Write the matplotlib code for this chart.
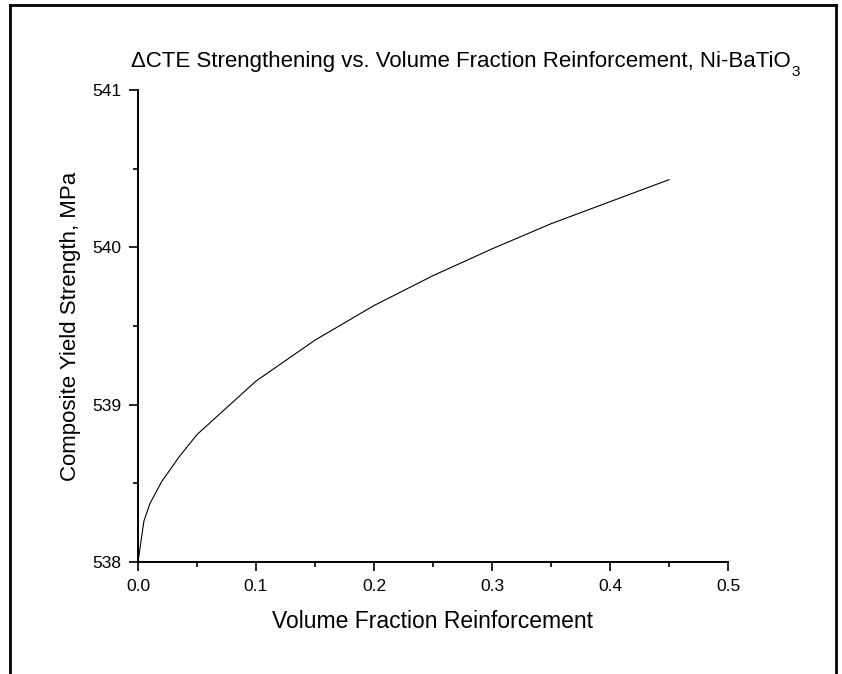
import numpy as np
import matplotlib
matplotlib.use("Agg")
import matplotlib.pyplot as plt
from matplotlib.lines import Line2D
from matplotlib.ticker import MultipleLocator, FormatStrFormatter

plt.rcParams['font.family'] = 'Liberation Sans'

# volume fraction vs. composite yield strength (MPa)
vol_frac = [0.0, 0.005, 0.01, 0.02, 0.035, 0.05, 0.1, 0.15, 0.2, 0.25, 0.3, 0.35, 0.4, 0.45]
yield_strength = [538.0, 538.26, 538.37, 538.51, 538.67, 538.81, 539.15, 539.41,
                  539.63, 539.82, 539.99, 540.15, 540.29, 540.43]

W, H = 842, 674
fig = plt.figure(figsize=(W/100, H/100), dpi=100)
ax = fig.add_axes([138/W, 1-562/H, 590/W, 472/H])

ax.plot(vol_frac, yield_strength, color='black', linewidth=0.8)

ax.set_xlim(0, 0.5)
ax.set_ylim(538, 541)
ax.xaxis.set_major_locator(MultipleLocator(0.1))
ax.xaxis.set_minor_locator(MultipleLocator(0.05))
ax.yaxis.set_major_locator(MultipleLocator(1))
ax.yaxis.set_minor_locator(MultipleLocator(0.5))
ax.xaxis.set_major_formatter(FormatStrFormatter('%.1f'))
ax.yaxis.set_major_formatter(FormatStrFormatter('%d'))

for side in ['top', 'right']:
    ax.spines[side].set_visible(False)
for side in ['left', 'bottom']:
    ax.spines[side].set_linewidth(1.4)

ax.tick_params(which='major', direction='out', length=6.5, width=1.2, labelsize=12.5, pad=5.5)
ax.tick_params(which='minor', direction='out', length=3.5, width=1.2)

ax.set_xlabel('Volume Fraction Reinforcement', fontsize=16.5, labelpad=12)
ax.set_ylabel('Composite Yield Strength, MPa', fontsize=16, labelpad=8)

# title, with the subscript placed by hand so it sits low
title = fig.text(131/W, 1-62/H, '\u0394CTE Strengthening vs. Volume Fraction Reinforcement, Ni-BaTiO',
                 ha='left', va='center', fontsize=16)
fig.canvas.draw()
bb = title.get_window_extent(fig.canvas.get_renderer())
fig.text((bb.x1 + 1)/W, (bb.y0 - 4)/H, '3', ha='left', va='baseline', fontsize=11)

# page frame
lw = 2.0
fig.add_artist(Line2D([10/W, 10/W], [0, 1-5/H], color='black', linewidth=lw, transform=fig.transFigure))
fig.add_artist(Line2D([836/W, 836/W], [0, 1-5/H], color='black', linewidth=lw, transform=fig.transFigure))
fig.add_artist(Line2D([10/W, 836/W], [1-5/H, 1-5/H], color='black', linewidth=lw, transform=fig.transFigure))

fig.savefig('out.png', dpi=100)
